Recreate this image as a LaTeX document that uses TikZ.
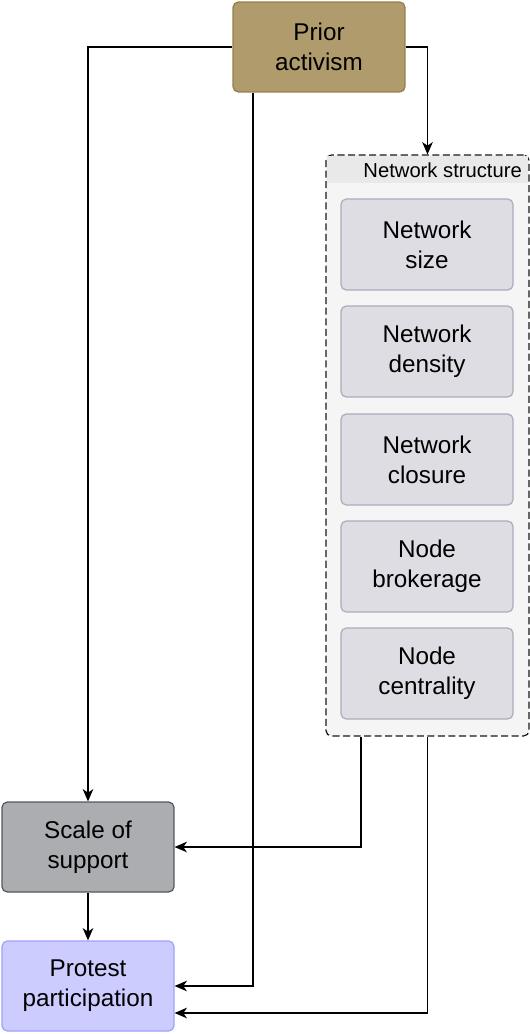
\documentclass[tikz,border=0pt]{standalone}
\usepackage{fontspec}
\setmainfont{Liberation Sans}
\usetikzlibrary{arrows.meta,calc}
\definecolor{priorfill}{RGB}{176,155,108}
\definecolor{priordraw}{RGB}{150,126,72}
\definecolor{scalefill}{RGB}{172,173,177}
\definecolor{scaledraw}{RGB}{85,87,92}
\definecolor{protfill}{RGB}{204,204,255}
\definecolor{protdraw}{RGB}{160,160,255}
\definecolor{netfill}{RGB}{245,245,245}
\definecolor{netband}{RGB}{233,233,233}
\definecolor{itemfill}{RGB}{221,221,227}
\definecolor{itemdraw}{RGB}{172,172,188}
\tikzset{
  box/.style={draw, rounded corners=3pt, align=center, line width=0.7pt,
    minimum width=3.44cm, minimum height=1.8cm, inner sep=0pt,
    font=\fontsize{13.8}{17}\selectfont},
  itembox/.style={box, fill=itemfill, draw=itemdraw, minimum height=1.82cm},
  arr/.style={-{Stealth[length=7pt,width=6pt,inset=2pt]}, line width=0.7pt}
}
\begin{document}
\begin{tikzpicture}[x=0.02cm, y=-0.02cm]
  \useasboundingbox (0,0) rectangle (530,1034);
  % Conteneur
  \node[draw=black!90, dash pattern=on 4pt off 2pt, fill=netfill, rounded corners=3pt,
        minimum width=4.06cm, minimum height=11.62cm, inner sep=0pt, line width=0.7pt]
        (net) at (427.5,445.5) {};
  \fill[netband] (327,156) rectangle (528,183);
  \node[anchor=east, font=\fontsize{11.5}{13}\selectfont] (nettitle) at (528,170) {Network structure};
  % Boites du reseau
  \foreach \n/\y/\txt in {size/244.5/{Network\\size}, dens/351.5/{Network\\density},
      clos/459.5/{Network\\closure}, brok/566.5/{Node\\brokerage}, cent/673.5/{Node\\centrality}} {
    \node[itembox] (\n) at (427,\y) {\txt};
  }
  % Noeuds principaux
  \node[box, fill=priorfill, draw=priordraw] (prior) at (319,47) {Prior\\activism};
  \node[box, fill=scalefill, draw=scaledraw] (scale) at (88,847) {Scale of\\support};
  \node[box, fill=protfill, draw=protdraw] (protest) at (88,986) {Protest\\participation};
  % Fleches
  \coordinate (c1) at (253,0);
  \coordinate (c2) at (361,0);
  \draw[arr] (prior.west) -| (scale.north);
  \draw[arr] (prior.east) -| (net.north);
  \draw[arr] (prior.south -| c1) |- (protest.east);
  \draw[arr] (net.south -| c2) |- (scale.east);
  \draw[arr] (net.south) |- ($(protest.east)+(0,27)$);
  \draw[arr] (scale.south) -- (protest.north);
\end{tikzpicture}
\end{document}
